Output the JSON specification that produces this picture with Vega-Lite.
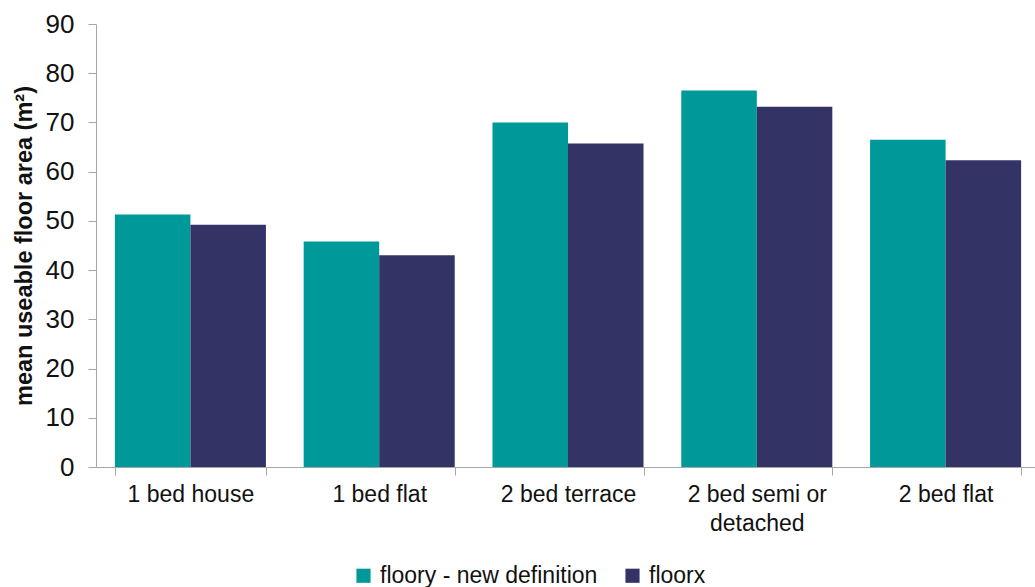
{
  "$schema": "https://vega.github.io/schema/vega-lite/v6.json",
  "width": 939,
  "height": 443,
  "autosize": {"type": "none"},
  "padding": {"left": 96, "top": 24, "right": 0, "bottom": 120},
  "background": "white",
  "config": {
    "view": {"stroke": null},
    "font": "Liberation Sans",
    "axis": {"grid": false, "domainColor": "#a6a6a6", "tickColor": "#a6a6a6", "labelColor": "#111111", "labelFont": "Liberation Sans", "titleFont": "Liberation Sans"}
  },
  "data": {
    "values": [
      {"type": "1 bed house", "series": "floory - new definition", "area": 51.3},
      {"type": "1 bed house", "series": "floorx", "area": 49.2},
      {"type": "1 bed flat", "series": "floory - new definition", "area": 45.8},
      {"type": "1 bed flat", "series": "floorx", "area": 43.0},
      {"type": "2 bed terrace", "series": "floory - new definition", "area": 70.0},
      {"type": "2 bed terrace", "series": "floorx", "area": 65.7},
      {"type": "2 bed semi or detached", "series": "floory - new definition", "area": 76.5},
      {"type": "2 bed semi or detached", "series": "floorx", "area": 73.2},
      {"type": "2 bed flat", "series": "floory - new definition", "area": 66.5},
      {"type": "2 bed flat", "series": "floorx", "area": 62.3}
    ]
  },
  "mark": {"type": "bar"},
  "encoding": {
    "x": {
      "field": "type",
      "type": "nominal",
      "sort": ["1 bed house", "1 bed flat", "2 bed terrace", "2 bed semi or detached", "2 bed flat"],
      "scale": {"paddingInner": 0.2, "paddingOuter": 0.1, "range": [0, 944]},
      "axis": {
        "title": null,
        "labelAngle": 0,
        "labelFontSize": 23,
        "tickBand": "extent",
        "tickSize": 8,
        "labelPadding": 8,
        "labelLineHeight": 29,
        "labelExpr": "datum.label == '2 bed semi or detached' ? ['2 bed semi or', 'detached'] : datum.label"
      }
    },
    "xOffset": {
      "field": "series",
      "type": "nominal",
      "sort": ["floory - new definition", "floorx"]
    },
    "y": {
      "field": "area",
      "type": "quantitative",
      "scale": {"domain": [0, 90]},
      "axis": {
        "title": "mean useable floor area (m²)",
        "titleFontSize": 23.5,
        "titleFontWeight": "bold",
        "titleColor": "#111111",
        "titlePadding": 9,
        "values": [0, 10, 20, 30, 40, 50, 60, 70, 80, 90],
        "labelFontSize": 26,
        "tickSize": 8,
        "labelPadding": 14
      }
    },
    "color": {
      "field": "series",
      "type": "nominal",
      "sort": ["floory - new definition", "floorx"],
      "scale": {"domain": ["floory - new definition", "floorx"], "range": ["#009999", "#333366"]},
      "legend": {
        "title": null,
        "orient": "none",
        "direction": "horizontal",
        "legendX": 256,
        "legendY": 540,
        "symbolType": "square",
        "symbolSize": 200,
        "labelFontSize": 23,
        "labelLimit": 0,
        "labelColor": "#111111",
        "labelOffset": 5,
        "columnPadding": 23,
        "symbolStrokeWidth": 0
      }
    }
  }
}
